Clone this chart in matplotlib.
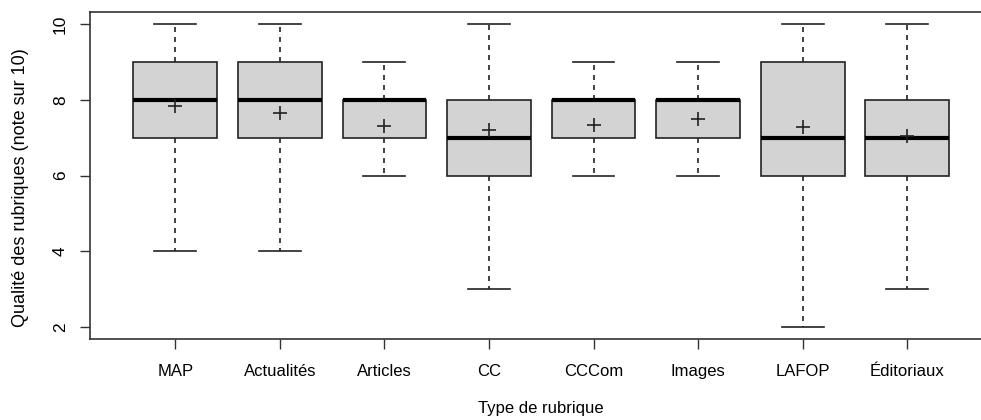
import matplotlib
matplotlib.use("Agg")
import matplotlib.pyplot as plt

plt.rcParams['font.family'] = ['Liberation Sans', 'DejaVu Sans']

categories = ["MAP", "Actualités", "Articles", "CC", "CCCom", "Images", "LAFOP", "Éditoriaux"]
whislo = [4, 4, 6, 3, 6, 6, 2, 3]
q1 = [7, 7, 7, 6, 7, 7, 6, 6]
med = [8, 8, 8, 7, 8, 8, 7, 7]
q3 = [9, 9, 8, 8, 8, 8, 9, 8]
whishi = [10, 10, 9, 10, 9, 9, 10, 10]
means = [7.85, 7.67, 7.31, 7.21, 7.33, 7.50, 7.28, 7.06]
yticks = [2, 4, 6, 8, 10]

W, H = 981, 420
fig = plt.figure(figsize=(W / 100, H / 100), dpi=100)
left, right, top, bottom = 89.5, 993, 12.3, 339
ax = fig.add_axes([left / W, 1 - bottom / H, (right - left) / W, (bottom - top) / H])

stats = []
for i, c in enumerate(categories):
    stats.append(dict(label=c, whislo=whislo[i], q1=q1[i], med=med[i], q3=q3[i],
                      whishi=whishi[i], fliers=[]))
pos = list(range(1, len(categories) + 1))
ax.bxp(stats, positions=pos, widths=0.8, patch_artist=True, showfliers=False,
       boxprops=dict(facecolor='#d3d3d3', edgecolor='#222222', linewidth=1.2),
       medianprops=dict(color='black', linewidth=3, solid_capstyle='butt'),
       whiskerprops=dict(color='#222222', linewidth=1.2, linestyle=(0, (3, 3))),
       capprops=dict(color='#222222', linewidth=1.2), capwidths=0.4)
ax.plot(pos, means, linestyle='none', marker='+', color='#222222', markersize=9.5, markeredgewidth=1.2, zorder=5)

ax.set_xlim(0.18, 8.82)
ax.set_ylim(1.68, 10.32)
ax.set_xticks(pos)
ax.set_xticklabels(categories, fontsize=12)
ax.set_yticks(yticks)
ax.set_yticklabels([str(v) for v in yticks], fontsize=12.5, rotation=90, va='center')
ax.tick_params(axis='both', length=7.5, width=1, color='#333333')
ax.tick_params(axis='x', pad=10.5)
ax.tick_params(axis='y', pad=8)
for s in ax.spines.values():
    s.set_linewidth(1.2)
    s.set_color('#333333')
ax.set_xlabel("Type de rubrique", fontsize=12, labelpad=16)
ax.set_ylabel("Qualité des rubriques (note sur 10)", fontsize=13, labelpad=17)
ax.yaxis.label.set_y(0.462)

fig.savefig("out.png", dpi=100)
